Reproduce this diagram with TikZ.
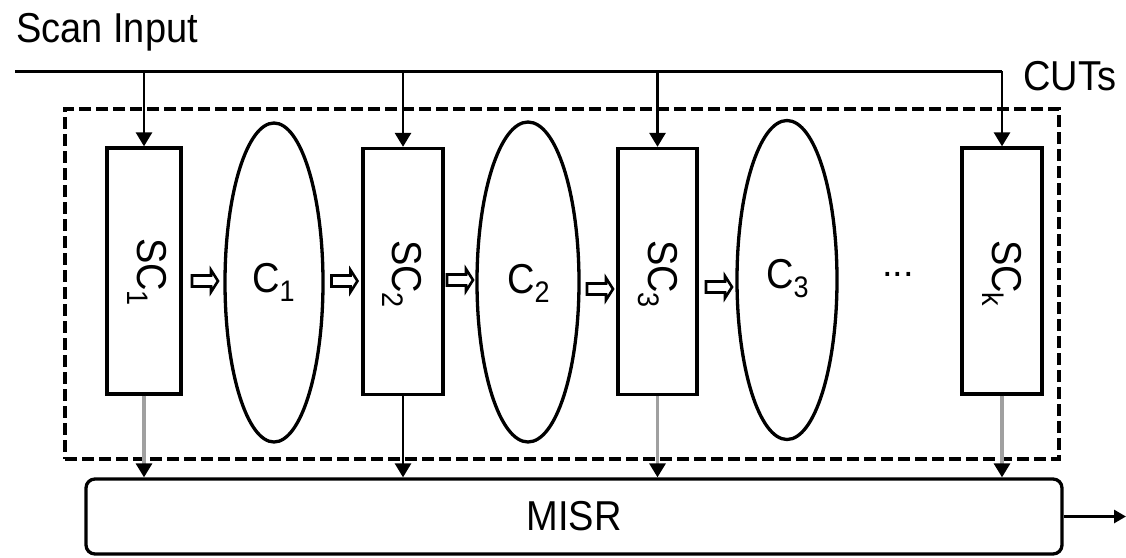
\documentclass[tikz,border=0pt]{standalone}
\usepackage{fontspec}
\usepackage{graphicx}
\setmainfont{Liberation Sans}
\usetikzlibrary{shapes.geometric,arrows.meta}
\definecolor{lgray}{RGB}{160,160,160}
\newcommand\tx[1]{\scalebox{1}[1.1]{#1}}
\newcommand\sbs[1]{\raisebox{-9pt}{\fontsize{27}{27}\selectfont #1}}
\begin{document}
\begin{tikzpicture}[x=1pt,y=-1pt,
  txt/.style={inner sep=0pt, font=\fontsize{38}{40}\selectfont},
  scbox/.style={draw, line width=3.3pt, minimum height=246pt, inner sep=0pt},
  ell/.style={draw, ellipse, line width=3.3pt, inner sep=0pt},
  wire/.style={line width=3pt},
  arr/.style={line width=2.8pt, -{Triangle[length=14pt,width=16pt]}},
  garr/.style={line width=3.2pt, draw=lgray, -{Triangle[length=14pt,width=16pt,color=black]}},
  cutbox/.style={draw, line width=3.3pt, dash pattern=on 12pt off 5pt, inner sep=0pt},
  barr/.pic={\draw[line width=2.6pt, line join=miter]
     (-13,-5.5) -- (6,-5.5) -- (6,-11) -- (13,0) -- (6,11) -- (6,5.5) -- (-13,5.5) -- cycle;}
]
\useasboundingbox (0,0) rectangle (1126,557);

% texts
\node[txt, anchor=base west] (scan) at (16,42) {\tx{Scan Input}};
\node[txt, anchor=base west] (cuts) at (1023,90) {\tx{CUTs}};

% CUT area
\node[cutbox, minimum width=994pt, minimum height=350pt] (cut) at (562,284) {};

% scan chains
\node[scbox, minimum width=74pt] (sc1) at (144,271) {};
\node[scbox, minimum width=80pt] (sc2) at (403,271.5) {};
\node[scbox, minimum width=79pt] (sc3) at (657.5,271.5) {};
\node[scbox, minimum width=80pt] (sck) at (1002,271) {};

\node[txt, rotate=-90, anchor=base west] (l1) at (137,238) {\tx{SC\sbs{1}}};
\node[txt, rotate=-90, anchor=base west] (l2) at (392,240) {\tx{SC\sbs{2}}};
\node[txt, rotate=-90, anchor=base west] (l3) at (648,240) {\tx{SC\sbs{3}}};
\node[txt, rotate=-90, anchor=base west] (lk) at (992,240) {\tx{SC\sbs{k}}};

% combinational blocks
\node[ell, minimum width=98pt, minimum height=319pt] (c1) at (274,282.5) {};
\node[ell, minimum width=102pt, minimum height=320pt] (c2) at (528,282) {};
\node[ell, minimum width=100pt, minimum height=319pt] (c3) at (787,280) {};
\node[txt, anchor=base west] (lc1) at (252,292) {\tx{C\sbs{1}}};
\node[txt, anchor=base west] (lc2) at (507,293) {\tx{C\sbs{2}}};
\node[txt, anchor=base west] (lc3) at (766,288) {\tx{C\sbs{3}}};
\node[txt, anchor=base] (dots) at (898,276) {...};

% block arrows
\pic at (205,281) {barr};
\pic at (344.5,281) {barr};
\pic at (460,280) {barr};
\pic at (600,289) {barr};
\pic at (719,287) {barr};

% MISR
\node[draw, line width=3.3pt, rounded corners=9pt, minimum width=976pt, minimum height=75pt, txt] (misr) at (574,516.5) {\tx{MISR}};

% scan input wiring
\coordinate (sin) at (15,71);
\coordinate (t1) at (sc1.north |- sin);
\coordinate (t2) at (sc2.north |- sin);
\coordinate (t3) at (sc3.north |- sin);
\coordinate (tk) at (sck.north |- sin);
\draw[wire] (sin) -- (tk);
\draw[arr] (t1) -- (sc1.north);
\draw[arr] (t2) -- (sc2.north);
\draw[arr] (t3) -- (sc3.north);
\draw[arr] (tk) -- (sck.north);

% outputs to MISR
\draw[garr] (sc1.south) -- (sc1.south |- misr.north);
\draw[arr] (sc2.south) -- (sc2.south |- misr.north);
\draw[garr] (sc3.south) -- (sc3.south |- misr.north);
\draw[garr] (sck.south) -- (sck.south |- misr.north);

\coordinate (out) at (1126,516.5);
\draw[line width=2.8pt, -{Triangle[length=12pt,width=13pt]}] (misr.east) -- (out);
\end{tikzpicture}
\end{document}
